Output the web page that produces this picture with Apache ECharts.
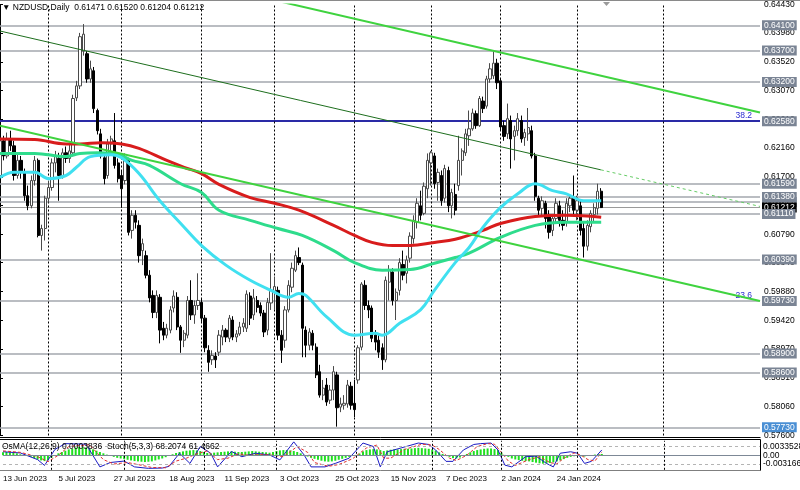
<!DOCTYPE html>
<html lang="en">
<head>
<meta charset="UTF-8">
<title>NZDUSD Daily</title>
<script src="https://cdn.jsdelivr.net/npm/echarts@6/dist/echarts.min.js"></script>
<style>
  html, body { margin: 0; padding: 0; background: #fff; }
  #chart { width: 800px; height: 490px; }
</style>
</head>
<body>
<div id="chart"></div>
<script>
// daily bars from 13 Jun 2023 (index 0) to 12 Feb 2024, rows are [open, close, low, high]
const candles = [
  [0.6172,0.6227,0.6145,0.6235],[0.6227,0.6203,0.6196,0.6235],[0.6203,0.6230,0.6199,0.6240],[0.6230,0.6219,0.6211,0.6243],
  [0.6219,0.6172,0.6164,0.6227],[0.6172,0.6196,0.6167,0.6207],[0.6196,0.6177,0.6167,0.6203],[0.6177,0.6140,0.6132,0.6183],
  [0.6140,0.6124,0.6117,0.6156],[0.6124,0.6164,0.6120,0.6172],[0.6164,0.6196,0.6156,0.6203],[0.6196,0.6077,0.6074,0.6199],
  [0.6077,0.6088,0.6053,0.6094],[0.6088,0.6136,0.6069,0.6140],[0.6136,0.6153,0.6129,0.6164],[0.6153,0.6192,0.6148,0.6199],
  [0.6192,0.6203,0.6177,0.6211],[0.6199,0.6172,0.6132,0.6208],[0.6172,0.6208,0.6167,0.6215],[0.6208,0.6199,0.6192,0.6218],
  [0.6199,0.6211,0.6192,0.6224],[0.6208,0.6294,0.6203,0.6300],[0.6295,0.6314,0.6290,0.6322],[0.6314,0.6392,0.6309,0.6398],
  [0.6369,0.6396,0.6362,0.6412],[0.6365,0.6325,0.6319,0.6369],[0.6325,0.6341,0.6319,0.6354],[0.6338,0.6278,0.6271,0.6344],
  [0.6275,0.6243,0.6237,0.6278],[0.6238,0.6203,0.6199,0.6246],[0.6200,0.6167,0.6158,0.6208],[0.6172,0.6222,0.6167,0.6230],
  [0.6222,0.6230,0.6203,0.6235],[0.6227,0.6188,0.6183,0.6271],[0.6192,0.6167,0.6161,0.6199],[0.6172,0.6151,0.6121,0.6180],
  [0.6164,0.6199,0.6158,0.6207],[0.6196,0.6082,0.6077,0.6200],[0.6085,0.6109,0.6072,0.6117],[0.6109,0.6098,0.6088,0.6117],
  [0.6093,0.6045,0.6034,0.6101],[0.6053,0.6064,0.6030,0.6072],[0.6045,0.6014,0.6009,0.6053],[0.6014,0.5978,0.5971,0.6022],
  [0.5982,0.5955,0.5946,0.5990],[0.5955,0.5982,0.5946,0.5990],[0.5979,0.5927,0.5906,0.5984],[0.5930,0.5919,0.5911,0.5940],
  [0.5919,0.5930,0.5914,0.5937],[0.5927,0.5959,0.5922,0.5965],[0.5962,0.5981,0.5955,0.5990],[0.5979,0.5932,0.5927,0.5987],
  [0.5932,0.5911,0.5891,0.5935],[0.5911,0.5922,0.5900,0.5927],[0.5919,0.5974,0.5914,0.5981],[0.5974,0.5951,0.5943,0.6006],
  [0.5951,0.5966,0.5937,0.5974],[0.5966,0.5974,0.5959,0.6017],[0.5971,0.5946,0.5940,0.5978],[0.5946,0.5899,0.5892,0.5951],
  [0.5895,0.5876,0.5861,0.5903],[0.5880,0.5887,0.5872,0.5895],[0.5886,0.5880,0.5867,0.5892],[0.5892,0.5919,0.5886,0.5927],
  [0.5916,0.5927,0.5903,0.5935],[0.5927,0.5916,0.5908,0.5930],[0.5914,0.5946,0.5908,0.5951],[0.5943,0.5916,0.5911,0.5949],
  [0.5916,0.5921,0.5908,0.5927],[0.5921,0.5932,0.5918,0.5940],[0.5932,0.5938,0.5924,0.5946],[0.5930,0.5984,0.5924,0.5990],
  [0.5981,0.5946,0.5935,0.5987],[0.5951,0.5978,0.5943,0.5992],[0.5974,0.5963,0.5955,0.5981],[0.5966,0.5954,0.5949,0.5971],
  [0.5954,0.5924,0.5916,0.5959],[0.5927,0.5971,0.5919,0.5978],[0.5970,0.5990,0.5959,0.6049],[0.5987,0.5996,0.5959,0.6012],
  [0.5990,0.5919,0.5911,0.5996],[0.5919,0.5895,0.5875,0.5927],[0.5911,0.5959,0.5899,0.5965],[0.5959,0.5998,0.5955,0.6006],
  [0.5995,0.6025,0.5987,0.6034],[0.6022,0.6045,0.6019,0.6053],[0.6042,0.6034,0.6030,0.6058],[0.6030,0.5930,0.5884,0.6034],
  [0.5927,0.5903,0.5884,0.5933],[0.5903,0.5924,0.5895,0.5930],[0.5922,0.5903,0.5895,0.5927],[0.5900,0.5856,0.5851,0.5906],
  [0.5861,0.5824,0.5820,0.5872],[0.5824,0.5835,0.5816,0.5848],[0.5840,0.5813,0.5807,0.5851],[0.5816,0.5832,0.5810,0.5840],
  [0.5832,0.5861,0.5816,0.5870],[0.5856,0.5804,0.5774,0.5861],[0.5805,0.5810,0.5797,0.5820],[0.5808,0.5811,0.5801,0.5824],
  [0.5810,0.5840,0.5804,0.5848],[0.5838,0.5808,0.5801,0.5845],[0.5811,0.5801,0.5789,0.5848],[0.5848,0.5899,0.5842,0.5903],
  [0.5900,0.6000,0.5895,0.6003],[0.5998,0.5966,0.5959,0.6006],[0.5966,0.5959,0.5946,0.5974],[0.5962,0.5914,0.5908,0.5966],
  [0.5919,0.5908,0.5895,0.5927],[0.5911,0.5892,0.5883,0.5922],[0.5899,0.5880,0.5864,0.5906],[0.5880,0.6006,0.5876,0.6012],
  [0.6003,0.6022,0.5974,0.6030],[0.6019,0.5974,0.5966,0.6025],[0.5974,0.5987,0.5943,0.5993],[0.5990,0.6034,0.5982,0.6041],
  [0.6031,0.6014,0.6006,0.6053],[0.6017,0.6038,0.6001,0.6045],[0.6041,0.6076,0.6034,0.6082],[0.6072,0.6101,0.6064,0.6109],
  [0.6098,0.6128,0.6088,0.6136],[0.6124,0.6109,0.6101,0.6148],[0.6112,0.6155,0.6109,0.6161],[0.6151,0.6196,0.6136,0.6207],
  [0.6192,0.6208,0.6156,0.6211],[0.6203,0.6159,0.6151,0.6208],[0.6161,0.6177,0.6132,0.6183],[0.6172,0.6132,0.6124,0.6180],
  [0.6136,0.6183,0.6129,0.6189],[0.6180,0.6124,0.6114,0.6186],[0.6124,0.6145,0.6104,0.6151],[0.6142,0.6117,0.6109,0.6159],
  [0.6156,0.6196,0.6148,0.6235],[0.6196,0.6211,0.6172,0.6215],[0.6208,0.6238,0.6203,0.6246],[0.6235,0.6246,0.6219,0.6275],
  [0.6246,0.6271,0.6243,0.6278],[0.6270,0.6251,0.6246,0.6275],[0.6251,0.6294,0.6249,0.6298],[0.6290,0.6278,0.6271,0.6297],
  [0.6282,0.6325,0.6278,0.6330],[0.6325,0.6341,0.6319,0.6350],[0.6330,0.6350,0.6325,0.6369],[0.6350,0.6319,0.6309,0.6357],
  [0.6322,0.6249,0.6243,0.6325],[0.6251,0.6234,0.6227,0.6259],[0.6238,0.6262,0.6230,0.6286],[0.6259,0.6230,0.6183,0.6267],
  [0.6234,0.6243,0.6196,0.6251],[0.6243,0.6262,0.6235,0.6271],[0.6259,0.6230,0.6224,0.6267],[0.6232,0.6240,0.6219,0.6246],
  [0.6238,0.6248,0.6227,0.6279],[0.6243,0.6203,0.6199,0.6251],[0.6203,0.6139,0.6132,0.6208],[0.6136,0.6117,0.6109,0.6140],
  [0.6120,0.6132,0.6107,0.6139],[0.6128,0.6104,0.6088,0.6132],[0.6107,0.6082,0.6072,0.6117],[0.6085,0.6104,0.6076,0.6110],
  [0.6104,0.6128,0.6098,0.6136],[0.6124,0.6101,0.6091,0.6132],[0.6101,0.6093,0.6085,0.6117],[0.6098,0.6128,0.6091,0.6136],
  [0.6124,0.6136,0.6114,0.6142],[0.6136,0.6117,0.6109,0.6172],[0.6117,0.6132,0.6101,0.6140],[0.6124,0.6085,0.6077,0.6132],
  [0.6088,0.6060,0.6042,0.6098],[0.6060,0.6093,0.6053,0.6101],[0.6091,0.6112,0.6082,0.6117],[0.6110,0.6121,0.6098,0.6128],
  [0.6120,0.6147,0.6110,0.6159],[0.61471,0.61212,0.61204,0.61520]
];

// moving averages, [bar index, price]
const maFast = [[0,0.6169],[4,0.6177],[10,0.6177],[14,0.6167],[19,0.6172],[22,0.6185],[26,0.6202],[32,0.6205],[35,0.6200],
  [40,0.6175],[46,0.6132],[52,0.6096],[58,0.6061],[65,0.6030],[72,0.6006],[78,0.5990],[83,0.5979],[86,0.5985],[88,0.5982],
  [94,0.5948],[102,0.5919],[108,0.5922],[110,0.5919],[115,0.5938],[121,0.5959],[125,0.5990],[131,0.6034],[135,0.6058],
  [139,0.6090],[144,0.6121],[149,0.6143],[154,0.6159],[159,0.6148],[163,0.6143],[168,0.6132],[173,0.6132]];
const maMid = [[0,0.6207],[10,0.6207],[19,0.6202],[23,0.6207],[28,0.6208],[33,0.6207],[38,0.6196],[43,0.6188],[52,0.6159],
  [58,0.6145],[63,0.6117],[72,0.6101],[80,0.6088],[87,0.6077],[96,0.6053],[102,0.6034],[110,0.6022],[118,0.6023],
  [125,0.6033],[131,0.6042],[135,0.6049],[144,0.6074],[154,0.6093],[163,0.6098],[173,0.6098]];
const maSlow = [[0,0.6230],[10,0.6229],[19,0.6222],[23,0.6222],[29,0.6224],[35,0.6222],[40,0.6215],[48,0.6196],[53,0.6185],
  [58,0.6175],[63,0.6158],[72,0.6137],[79,0.6128],[86,0.6117],[96,0.6093],[102,0.6077],[107,0.6066],[113,0.6061],
  [118,0.6061],[125,0.6066],[131,0.6071],[139,0.6085],[144,0.6096],[154,0.6107],[163,0.6109],[173,0.6106]];

// trend lines, [bar index, price]
const channelTop = [[78, 0.6451], [218.7, 0.6272]];
const channelBottom = [[0, 0.6251], [218.7, 0.5973]];
const midLine = [[0, 0.6401], [172.9, 0.6181]];
const midLineExt = [[172.9, 0.6181], [218.7, 0.6123]];

// horizontal levels
const grayLevels = [0.6410, 0.6370, 0.6320, 0.6159, 0.6130, 0.6138, 0.6039, 0.5973, 0.5890, 0.5860];
const levelBelowBid = 0.6111;
const fibLevel = 0.6258;
const lowLevel = 0.5773;
const bidPrice = 0.61212;
const fibTexts = [[0.6258, '38.2'], [0.5973, '23.6']];

// axes
const priceTicks = [0.6443, 0.6398, 0.6352, 0.6307, 0.6261, 0.6216, 0.6170, 0.6125, 0.6079, 0.6034,
  0.5988, 0.5942, 0.5897, 0.5851, 0.5806, 0.5760];
const dateTicks = [0, 16, 32, 48, 64, 80, 96, 112, 128, 144, 160];
const dateLabels = ['13 Jun 2023', '5 Jul 2023', '27 Jul 2023', '18 Aug 2023', '11 Sep 2023', '3 Oct 2023',
  '25 Oct 2023', '15 Nov 2023', '7 Dec 2023', '2 Jan 2024', '24 Jan 2024'];
const monthStarts = [14, 35, 58, 79, 102, 124, 144, 166, 191];

// OsMA histogram, one value per bar
const osma = [
  0.0009, 0.0010, 0.0009, 0.0008, 0.0006, 0.0003, 0.0001, -0.0002, -0.0005,
  -0.0009, -0.0013, -0.0016, -0.0018, -0.0015, -0.0008, 0.0000, 0.0006, 0.0010, 0.0014,
  0.0018, 0.0020, 0.0024, 0.0026, 0.0025, 0.0024, 0.0021, 0.0018, 0.0014, 0.0010, 0.0006, 0.0002, -0.0002,
  -0.0005, -0.0008, -0.0010, -0.0012, -0.0014, -0.0016, -0.0018, -0.0019, -0.0020,
  -0.0021, -0.0020, -0.0019, -0.0016, -0.0013, -0.0010, -0.0006, -0.0002,
  0.0003, 0.0007, 0.0010, 0.0012, 0.0014, 0.0015, 0.0016, 0.0015, 0.0013,
  0.0010, 0.0007, 0.0006, 0.0008, 0.0009, 0.0010, 0.0011, 0.0012, 0.0012,
  0.0011, 0.0010, 0.0010, 0.0011, 0.0012, 0.0013, 0.0012, 0.0011, 0.0010, 0.0009, 0.0008,
  0.0010, 0.0013, 0.0015, 0.0016, 0.0016, 0.0015, 0.0013, 0.0010,
  0.0006, 0.0001, -0.0004, -0.0008, -0.0011, -0.0014, -0.0017, -0.0019, -0.0020, -0.0019, -0.0017,
  -0.0014, -0.0011, -0.0008, -0.0005, -0.0002,
  0.0001, 0.0005, 0.0012, 0.0016, 0.0018, 0.0019, 0.0018, 0.0016, 0.0013, 0.0015, 0.0017, 0.0018, 0.0018,
  0.0019, 0.0020, 0.0020, 0.0021, 0.0022, 0.0023, 0.0022, 0.0021, 0.0020, 0.0018, 0.0014,
  0.0009, 0.0004, -0.0001, -0.0005, -0.0009, -0.0010,
  -0.0007, -0.0002, 0.0004, 0.0009, 0.0013, 0.0016, 0.0018, 0.0020, 0.0021, 0.0021, 0.0019, 0.0016,
  0.0008, 0.0001, -0.0005, -0.0010, -0.0013, -0.0015, -0.0017, -0.0018, -0.0019, -0.0021, -0.0023, -0.0025,
  -0.0026, -0.0025, -0.0024, -0.0022,
  -0.0019, -0.0016, -0.0012, -0.0008, -0.0005, -0.0003, -0.0002, -0.0003,
  -0.0004, -0.0002, 0.0000, 0.0002, 0.0003, 0.0004
];
// stochastic, [bar index, value]
const stochMain = [[0,62],[5,58],[10,35],[12,15],[15,70],[18,90],[24,88],[28,10],[31,25],[35,30],[38,10],[42,5],[46,6],
  [48,12],[51,57],[54,22],[57,80],[60,57],[62,10],[66,63],[69,45],[73,57],[77,51],[80,34],[84,96],[87,51],[89,10],
  [93,10],[96,22],[100,40],[104,92],[107,80],[109,10],[111,62],[115,75],[120,92],[123,87],[125,68],[128,29],[130,29],
  [133,68],[136,87],[138,90],[141,92],[143,68],[145,16],[147,10],[151,45],[154,47],[157,22],[159,10],[161,57],
  [164,62],[166,57],[168,22],[170,29],[173,68.2]];
const stochSignal = [[0,65],[5,60],[10,45],[13,28],[16,50],[19,80],[25,86],[29,35],[32,20],[36,25],[39,18],[43,8],
  [47,7],[50,30],[53,40],[56,55],[59,65],[62,35],[65,40],[68,55],[71,50],[75,53],[78,50],[81,45],[85,80],[88,60],
  [90,25],[94,12],[97,18],[101,38],[105,75],[108,85],[110,40],[112,40],[116,70],[121,88],[124,85],[126,70],[129,40],
  [131,32],[134,50],[137,80],[140,90],[142,88],[144,60],[146,30],[148,15],[152,35],[155,45],[158,25],[160,20],
  [162,40],[165,58],[167,50],[169,35],[171,30],[173,61.5]];

const xMax = 218.7;
const font = 'Liberation Sans';

let chart = echarts.init(document.getElementById('chart'));

function boxLabel(text, bg) {
    return {
        show: true, position: 'end', distance: 2, formatter: text,
        color: '#ffffff', backgroundColor: bg, padding: [1, 2, 0, 2],
        fontFamily: font, fontSize: 8.5
    };
}

let levelData = grayLevels.map(p => ({
    yAxis: p,
    lineStyle: { color: '#a3a7ae', width: 1.5, type: 'solid' },
    label: boxLabel(p.toFixed(5), '#7a8494')
}));
levelData.push({ yAxis: bidPrice, lineStyle: { color: '#9a9a9a', width: 1, type: 'solid' }, label: boxLabel(bidPrice.toFixed(5), '#000000') });
levelData.push({ yAxis: levelBelowBid, lineStyle: { color: '#a3a7ae', width: 1.5, type: 'solid' }, label: boxLabel(levelBelowBid.toFixed(5), '#7a8494') });
levelData.push({ yAxis: fibLevel, lineStyle: { color: '#2a2aa6', width: 2, type: 'solid' }, label: boxLabel(fibLevel.toFixed(5), '#7a8494') });
levelData.push({ yAxis: lowLevel, lineStyle: { color: '#a3a7ae', width: 1.5, type: 'solid' }, label: boxLabel(lowLevel.toFixed(5), '#4a8fd4') });
fibTexts.forEach(([p, t]) => levelData.push({
    yAxis: p,
    lineStyle: { color: 'rgba(0,0,0,0)', width: 0 },
    label: { show: true, position: 'insideEndTop', formatter: t, color: '#2b2bd0', fontFamily: font, fontSize: 8.5, distance: 1, padding: [0, 7, 0, 0] }
}));

function monthLines() {
    return monthStarts.map(m => ({ xAxis: m, lineStyle: { color: '#000000', width: 1, type: [2, 2] }, label: { show: false } }));
}

function trend(data, color, width, type) {
    return {
        type: 'line', xAxisIndex: 0, yAxisIndex: 0, data: data, showSymbol: false, silent: true,
        lineStyle: { color: color, width: width, type: type }, z: 6, clip: true
    };
}

function maLine(data, color) {
    return {
        type: 'line', xAxisIndex: 0, yAxisIndex: 0, data: data, smooth: 0.4, showSymbol: false, silent: true,
        lineStyle: { color: color, width: 3 }, z: 5
    };
}

let option = {
    animation: false,
    backgroundColor: '#ffffff',
    title: [
        {
            text: '\u25BC NZDUSD,Daily  0.61471 0.61520 0.61204 0.61212', left: 2, top: 3, padding: 0,
            textStyle: { fontFamily: font, fontSize: 8.5, fontWeight: 'normal', color: '#000000' }
        },
        {
            text: 'OsMA(12,26,9) 0.0003836  Stoch(5,3,3) 68.2074 61.4662', left: 2, top: 442, padding: 0,
            textStyle: { fontFamily: font, fontSize: 8.5, fontWeight: 'normal', color: '#000000' }
        }
    ],
    grid: [
        { left: 0, top: 3.5, width: 760, height: 432 },
        { left: 0, top: 440.7, width: 760, height: 29.1 }
    ],
    xAxis: [
        { type: 'value', gridIndex: 0, min: 0, max: xMax, show: false },
        {
            type: 'value', gridIndex: 1, min: 0, max: xMax,
            axisLine: { show: false }, axisTick: { show: false }, splitLine: { show: false },
            axisLabel: {
                customValues: dateTicks, align: 'left', margin: 5, color: '#000000',
                fontFamily: font, fontSize: 8,
                formatter: v => dateLabels[dateTicks.indexOf(v)] || ''
            }
        }
    ],
    yAxis: [
        {
            type: 'value', gridIndex: 0, position: 'right', min: 0.576, max: 0.6443,
            axisLine: { show: true, lineStyle: { color: '#000000' } },
            axisTick: { show: true, length: 3, customValues: priceTicks, lineStyle: { color: '#000000' } },
            splitLine: { show: false },
            axisLabel: {
                customValues: priceTicks, margin: 4, color: '#000000', fontFamily: font, fontSize: 8.5,
                formatter: v => v.toFixed(5)
            }
        },
        { type: 'value', gridIndex: 1, min: 0, max: 100, show: false },
        { type: 'value', gridIndex: 1, min: -0.0045, max: 0.0045, show: false }
    ],
    graphic: [
        { type: 'line', shape: { x1: 0, y1: 0.5, x2: 800, y2: 0.5 }, style: { stroke: '#8a8a8a', lineWidth: 1 } },
        { type: 'line', shape: { x1: 0, y1: 437.5, x2: 760.5, y2: 437.5 }, style: { stroke: '#000000', lineWidth: 1 } },
        { type: 'line', shape: { x1: 0, y1: 439.5, x2: 760.5, y2: 439.5 }, style: { stroke: '#000000', lineWidth: 1 } },
        { type: 'line', shape: { x1: 0, y1: 470.5, x2: 760.5, y2: 470.5 }, style: { stroke: '#7f7f7f', lineWidth: 1 } },
        { type: 'line', shape: { x1: 760.5, y1: 439.5, x2: 760.5, y2: 470.5 }, style: { stroke: '#000000', lineWidth: 1 } },
        { type: 'polygon', shape: { points: [[603, 2], [610, 2], [606.5, 6]] }, style: { fill: '#9a9a9a' } }
    ],
    series: [
        {
            type: 'candlestick', xAxisIndex: 0, yAxisIndex: 0, z: 3, silent: true,
            data: candles.map((c, i) => [i, c[0], c[1], c[2], c[3]]),
            encode: { x: 0, y: [1, 2, 3, 4] },
            barWidth: 2.8,
            itemStyle: { color: '#ffffff', color0: '#000000', borderColor: '#4a4a4a', borderColor0: '#000000', borderWidth: 1 },
            markLine: { symbol: 'none', silent: true, animation: false, z: 2, precision: 6, data: levelData.concat(monthLines()) }
        },
        maLine(maSlow, '#d81c1c'),
        maLine(maMid, '#2edc8c'),
        maLine(maFast, '#40e0f0'),
        trend(channelTop, '#3fd33f', 2, 'solid'),
        trend(channelBottom, '#3fd33f', 2, 'solid'),
        trend(midLine, '#1d6e1d', 1, 'solid'),
        trend(midLineExt, '#66cc66', 1, [3, 3]),
        {
            type: 'bar', xAxisIndex: 1, yAxisIndex: 2, silent: true, barWidth: 2,
            data: osma.map((v, i) => [i, v]),
            itemStyle: { color: '#1fe01f' },
            markLine: {
                symbol: 'none', silent: true, animation: false, precision: 6,
                data: [{
                    yAxis: 0, lineStyle: { color: '#7d8896', width: 1, type: 'solid' },
                    label: { show: true, position: 'end', distance: 3, formatter: '0.00', color: '#000000', fontFamily: font, fontSize: 8.5 }
                }]
            }
        },
        {
            type: 'line', xAxisIndex: 1, yAxisIndex: 1, data: stochMain, showSymbol: false, silent: true,
            lineStyle: { color: '#1a1ac4', width: 1 }, z: 4,
            markLine: {
                symbol: 'none', silent: true, animation: false,
                data: [
                    { yAxis: 80, lineStyle: { color: '#b4b4b4', width: 1, type: [3, 3] },
                      label: { show: true, position: 'end', distance: 3, formatter: '0.0033528', color: '#000000', fontFamily: font, fontSize: 8.5 } },
                    { yAxis: 20, lineStyle: { color: '#b4b4b4', width: 1, type: [3, 3] },
                      label: { show: true, position: 'end', distance: 3, formatter: '-0.003166', color: '#000000', fontFamily: font, fontSize: 8.5 } }
                ].concat(monthLines())
            }
        },
        {
            type: 'line', xAxisIndex: 1, yAxisIndex: 1, data: stochSignal, showSymbol: false, silent: true,
            lineStyle: { color: '#e03030', width: 1, type: [3, 2] }, z: 4
        }
    ]
};

chart.setOption(option);
</script>
</body>
</html>
